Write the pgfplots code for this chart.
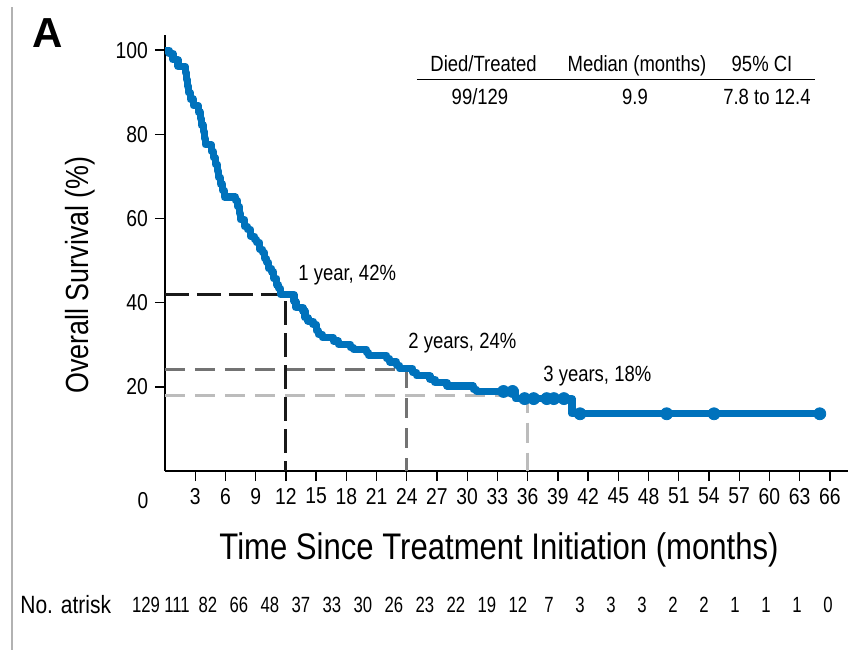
\documentclass[border=0pt]{standalone}
\usepackage{fontspec}
\setmainfont{Liberation Sans}[FakeStretch=0.84]
\newfontfamily\panelfont{Liberation Sans}
\newfontfamily\narrowfont{Liberation Sans}[FakeStretch=0.76]
\usepackage{pgfplots}
\pgfplotsset{compat=1.18}

\definecolor{kmblue}{RGB}{0,114,188}
\definecolor{yrone}{RGB}{25,25,25}
\definecolor{yrtwo}{RGB}{115,115,115}
\definecolor{yrthree}{RGB}{188,188,188}

\begin{document}
\begin{tikzpicture}
\useasboundingbox (-82.5pt,-89.5pt) rectangle (341.5pt,235.5pt);
% panel frame line and panel letter
\draw[black!30, line width=0.6pt] (-76.5pt,232pt) -- (-76.5pt,-89.5pt);
\node[font=\panelfont\bfseries\fontsize{21}{24}\selectfont, anchor=center] at (-58.75pt,219pt) {A};
\begin{axis}[
  at={(0pt,0pt)}, anchor=south west,
  scale only axis, width=341.5pt, height=218pt,
  xmin=0, xmax=67.8, ymin=0, ymax=103.6,
  axis x line=bottom, axis y line=left,
  axis line style={-, line width=1.4pt, black},
  xtick={3,6,...,66}, ytick={20,40,...,100},
  tick align=outside, major tick length=5pt,
  tick style={line width=0.7pt, black},
  /pgf/number format/assume math mode=true,
  tick label style={font=\fontsize{11.5}{13}\selectfont},
  clip=false,
]
% reference lines at 3, 2 and 1 year
\addplot[yrthree, line width=1.5pt, dash pattern=on 10pt off 5pt] coordinates {(0,18) (36,18) (36,0)};
\addplot[yrtwo, line width=1.5pt, dash pattern=on 10pt off 5pt] coordinates {(0,24) (24,24) (24,0)};
\addplot[yrone, line width=1.5pt, dash pattern=on 12pt off 4pt] coordinates {(0,42) (12,42) (12,0)};
% Kaplan-Meier estimate of overall survival
\addplot[kmblue, line width=3.6pt, const plot, line join=round] coordinates {
(0,100) (0.4,99.2) (0.8,97.7) (1.3,96.1) (2.0,94.6) (2.1,93.0) (2.2,91.5)
(2.3,89.9) (2.5,88.4) (2.8,86.8) (3.3,85.3) (3.5,83.7) (3.6,82.2) (3.8,80.6)
(3.9,79.1) (4.0,77.5) (4.6,76.0) (4.8,74.4) (5.0,72.9) (5.2,71.3) (5.3,69.8)
(5.5,68.2) (5.7,66.7) (5.9,65.1) (7.0,64.3) (7.2,62.8) (7.4,61.2) (7.5,59.7)
(7.9,58.1) (8.2,57.4) (8.5,55.8) (8.9,55.0) (9.1,54.3) (9.4,52.7) (9.7,51.9)
(9.9,50.4) (10.1,49.6) (10.3,48.1) (10.6,47.3) (10.8,45.7) (11.1,44.2)
(11.3,43.4) (11.5,41.9) (12.8,40.3) (13.0,38.8) (13.7,38.0) (13.9,36.4)
(14.2,35.6) (14.7,34.8) (15.0,33.3) (15.2,32.5) (15.6,31.7) (16.7,30.9)
(17.2,30.1) (18.4,29.3) (18.7,28.9) (20.0,28.1) (20.2,27.5) (22.0,26.7)
(22.3,25.9) (23.0,25.1) (23.3,24.3) (24.6,23.4) (25.0,22.6) (26.3,21.8)
(26.8,21.0) (28.0,20.2) (30.6,19.4) (30.9,18.9) (34.8,17.2) (40.4,13.6)
(65.0,13.6)
};
% censored observations
\addplot[kmblue, only marks, mark=*, mark size=3pt] coordinates {
(33.6,18.9) (34.5,18.9) (35.7,17.2) (36.6,17.2) (37.9,17.2) (38.6,17.2)
(39.6,17.2) (41.2,13.6) (49.8,13.6) (54.5,13.6) (65.0,13.6)
};
\end{axis}
% first x tick label, set left of the axis
\node[font=\fontsize{11.5}{13}\selectfont, anchor=north] at (-11pt,-7pt) {0};
% axis titles
\node[font=\fontsize{18.5}{21}\selectfont, anchor=center] at (167pt,-39.5pt) {Time Since Treatment Initiation (months)};
\node[font=\fontsize{16}{19}\selectfont, anchor=center, rotate=90] at (-42.5pt,98pt) {Overall Survival (\%)};
% landmark annotations
\node[font=\fontsize{11}{13}\selectfont, anchor=base west, inner sep=0pt] at (66.5pt,95.5pt) {1 year, 42\%};
\node[font=\fontsize{11}{13}\selectfont, anchor=base west, inner sep=0pt] at (121.5pt,61.5pt) {2 years, 24\%};
\node[font=\fontsize{11}{13}\selectfont, anchor=base west, inner sep=0pt] at (189pt,45pt) {3 years, 18\%};
% summary table
\begin{scope}[every node/.style={font=\fontsize{11}{13}\selectfont, anchor=base, inner sep=0pt}]
\node at (159.25pt,199.75pt) {Died/Treated};
\node at (236pt,199.75pt) {Median (months)};
\node at (298.5pt,199.75pt) {95\% CI};
\draw[black, line width=0.6pt] (126pt,195.85pt) -- (325pt,195.85pt);
\node at (157.5pt,183.5pt) {99/129};
\node at (235pt,183.5pt) {9.9};
\node at (301pt,183.5pt) {7.8 to 12.4};
\end{scope}
% number at risk
\node[font=\fontsize{12.5}{14}\selectfont, anchor=west, inner sep=0pt] at (-72.5pt,-67pt) {No. atrisk};
\foreach \n [count=\k from 0] in {129,111,82,66,48,37,33,30,26,23,22,19,12,7,3,3,3,2,2,1,1,1,0}
  \node[font=\narrowfont\fontsize{11}{13}\selectfont, anchor=center, inner sep=0pt] at ({-9.5pt+15.5pt*\k},-67pt) {\n};
\end{tikzpicture}
\end{document}
